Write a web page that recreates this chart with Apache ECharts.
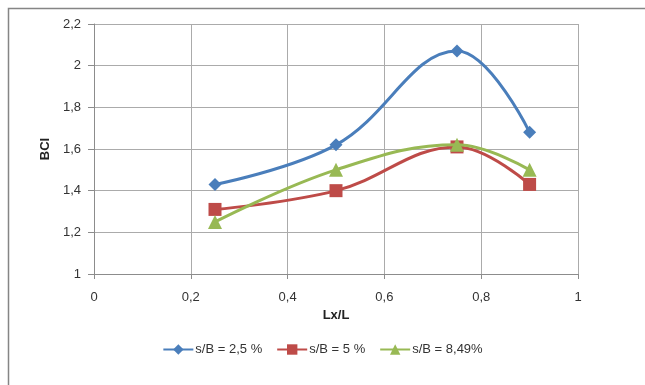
<!DOCTYPE html>
<html>
<head>
<meta charset="utf-8">
<script src="https://cdn.jsdelivr.net/npm/echarts@6/dist/echarts.min.js"></script>
<style>
html,body{margin:0;padding:0;background:#fff;}
#c{width:645px;height:385px;}
</style>
</head>
<body>
<div id="c"></div>
<script>
var xValues = [0.25, 0.5, 0.75, 0.9];
var seriesNames = ['s/B = 2,5 %', 's/B = 5 %', 's/B = 8,49%'];
var s1 = [1.43, 1.62, 2.07, 1.68];
var s2 = [1.31, 1.40, 1.61, 1.43];
var s3 = [1.25, 1.50, 1.62, 1.50];
var xTicks = [0, 0.2, 0.4, 0.6, 0.8, 1];
var yTicks = [1, 1.2, 1.4, 1.6, 1.8, 2, 2.2];

function pairs(ys){ return xValues.map(function(x,i){ return [x, ys[i]]; }); }
function fmt(v){ return String(+v.toFixed(1)).replace('.', ','); }
var font = '"Liberation Sans", Arial, sans-serif';

var chart = echarts.init(document.getElementById('c'), null, {renderer:'canvas'});
var colors = ['#4A7EBB', '#BE4B48', '#98B954'];
var symbols = ['diamond', 'rect', 'triangle'];
var sizes = [13, 13, 14];
var data = [s1, s2, s3];

chart.setOption({
  animation: false,
  backgroundColor: '#fff',
  graphic: [{
    type: 'rect', shape: {x: 8.5, y: 8.5, width: 700, height: 500},
    style: {fill: 'none', stroke: '#858585', lineWidth: 1.5}, silent: true, z: -1
  }],
  grid: {left: 94, right: 67, top: 24, bottom: 111, containLabel: false},
  xAxis: {
    type: 'value', min: 0, max: 1, interval: 0.2,
    name: 'Lx/L', nameLocation: 'middle', nameGap: 34,
    nameTextStyle: {fontFamily: font, fontWeight: 'bold', fontSize: 13, color: '#222'},
    axisLine: {show: true, lineStyle: {color: '#8c8c8c', width: 1}},
    axisTick: {show: true, length: 5, lineStyle: {color: '#8c8c8c'}},
    axisLabel: {formatter: fmt, margin: 17, fontFamily: font, fontSize: 13, color: '#333'},
    splitLine: {show: true, lineStyle: {color: '#ababab', width: 1}}
  },
  yAxis: {
    type: 'value', min: 1, max: 2.2, interval: 0.2,
    name: 'BCI', nameLocation: 'middle', nameGap: 37, nameRotate: 90,
    nameTextStyle: {fontFamily: font, fontWeight: 'bold', fontSize: 13, color: '#222'},
    axisLine: {show: true, lineStyle: {color: '#8c8c8c', width: 1}},
    axisTick: {show: true, length: 6, lineStyle: {color: '#8c8c8c'}},
    axisLabel: {formatter: fmt, margin: 13, fontFamily: font, fontSize: 13, color: '#333'},
    splitLine: {show: true, lineStyle: {color: '#ababab', width: 1}}
  },
  legend: {
    bottom: 24, left: 'center', itemWidth: 30, itemHeight: 13, itemGap: 14,
    textStyle: {fontFamily: font, fontSize: 13, color: '#333', padding: [0,0,0,-3]},
    data: seriesNames
  },
  series: data.map(function(d, i){
    return {
      name: seriesNames[i], type: 'line', data: pairs(d), smooth: 0.4,
      symbol: symbols[i], symbolSize: sizes[i],
      lineStyle: {color: colors[i], width: 3},
      itemStyle: {color: colors[i]},
      z: 3 + i
    };
  })
});
</script>
</body>
</html>
